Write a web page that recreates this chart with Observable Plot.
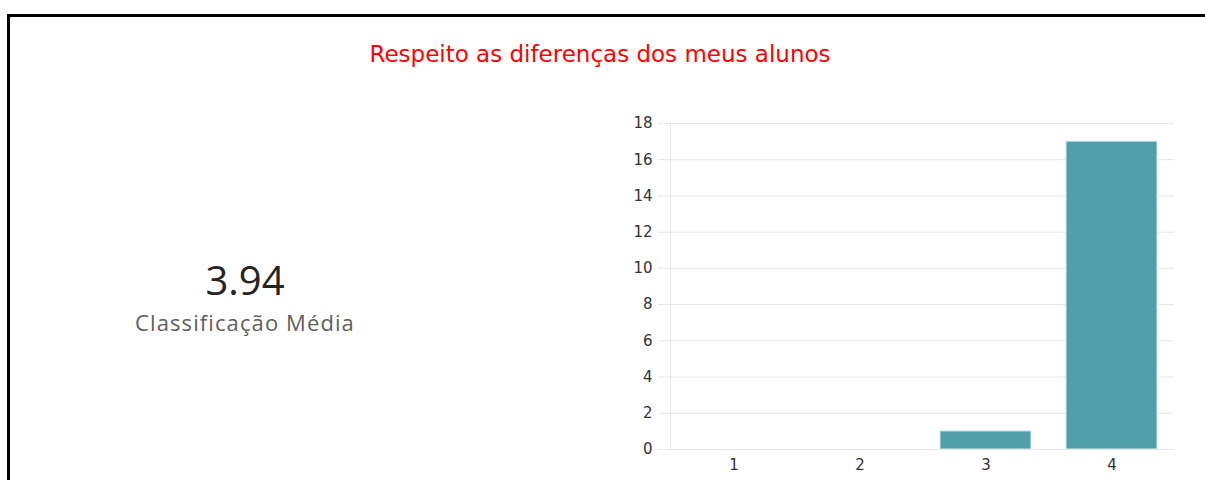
<!DOCTYPE html>
<html>
<head>
<meta charset="utf-8">
<script src="https://cdn.jsdelivr.net/npm/d3@7"></script>
<script src="https://cdn.jsdelivr.net/npm/@observablehq/plot@0.6"></script>
<style>
  html, body { margin: 0; padding: 0; background: #fff; width: 1205px; height: 480px; overflow: hidden; }
  #frame { position: absolute; left: 7px; top: 14px; width: 1210px; height: 480px; border: 3px solid #000; box-sizing: border-box; }
  #title { position: absolute; left: 0; width: 1200px; top: 41px; text-align: center; color: #ff0000; font-family: "DejaVu Sans", sans-serif; font-size: 23px; }
  #kpi { position: absolute; left: 95px; width: 300px; top: 254px; text-align: center; font-family: "Open Sans", sans-serif; }
  #kpi .value { font-size: 40px; color: #252423; line-height: 52px; font-weight: 400; }
  #kpi .label { font-size: 22px; letter-spacing: 1.1px; color: #605e5c; line-height: 32px; }
  #chart { position: absolute; left: 610px; top: 105px; }
</style>
</head>
<body>
<div id="frame"></div>
<div id="title"></div>
<div id="kpi"><div class="value"></div><div class="label"></div></div>
<div id="chart"></div>
<script>
const titleText = "Respeito as diferenças dos meus alunos";
const kpiLabel = "Classificação Média";
const ratings = ["1", "2", "3", "4"];
const counts = [0, 0, 1, 17];
const yTicks = [0, 2, 4, 6, 8, 10, 12, 14, 16, 18];

const data = ratings.map((r, i) => ({rating: r, count: counts[i]}));
const total = d3.sum(counts);
const avg = d3.sum(ratings, (r, i) => (+r) * counts[i]) / total;

document.getElementById("title").textContent = titleText;
document.querySelector("#kpi .value").textContent = avg.toFixed(2);
document.querySelector("#kpi .label").textContent = kpiLabel;

const chart = Plot.plot({
  width: 595,
  height: 375,
  marginLeft: 60,
  marginRight: 31,
  marginTop: 18,
  marginBottom: 31,
  style: {fontFamily: "'DejaVu Sans', sans-serif", fontSize: "15px", color: "#333", background: "transparent"},
  x: {domain: ratings, paddingInner: 0.28, paddingOuter: 0.14, label: null},
  y: {domain: [0, 18], label: null},
  marks: [
    Plot.gridY(yTicks, {stroke: "#e6e6e6", strokeOpacity: 1, strokeWidth: 1}),
    Plot.axisY(yTicks, {text: null, tickSize: 12, stroke: "#e6e6e6", strokeOpacity: 1}),
    Plot.axisY(yTicks, {tickSize: 0, tickPadding: 18, fill: "#333", fontSize: 15, label: null}),
    Plot.frame({anchor: "left", stroke: "#e6e6e6"}),
    Plot.barY(data, {x: "rating", y: "count", fill: "#519fac", stroke: "#d6eaee", strokeWidth: 1}),
    Plot.axisX({tickSize: 0, tickPadding: 10, fill: "#333", fontSize: 15, label: null})
  ]
});
d3.select(chart).selectAll("text").attr("font-size", 15).style("font-size", "15px").style("font-family", "'DejaVu Sans', sans-serif");
document.getElementById("chart").appendChild(chart);
</script>
</body>
</html>
